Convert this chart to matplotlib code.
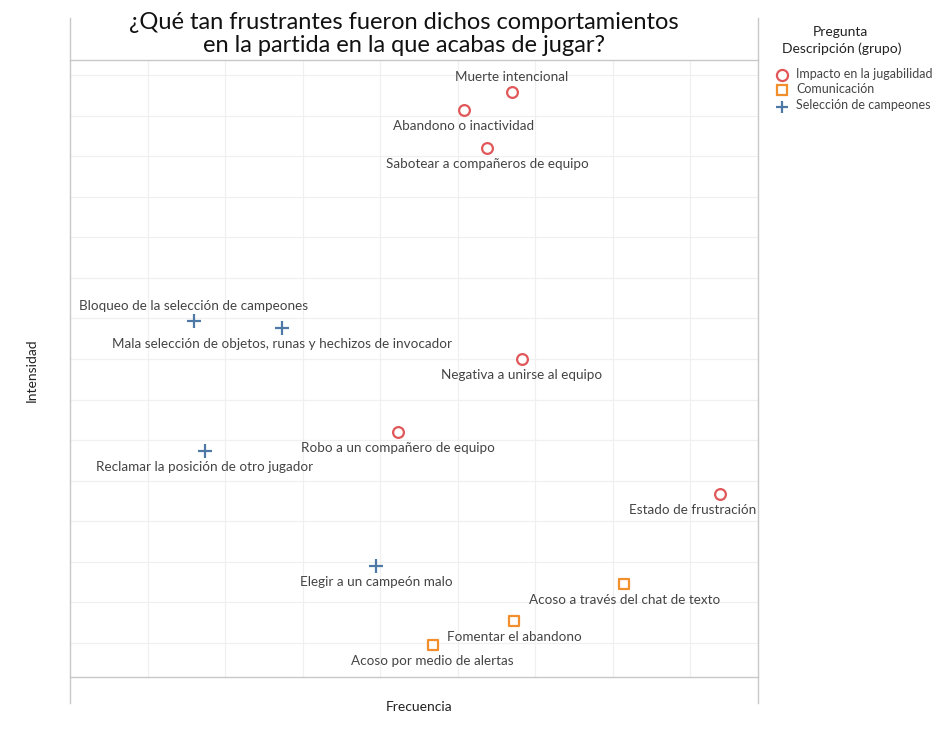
import matplotlib
matplotlib.use("Agg")
import matplotlib.pyplot as plt
from matplotlib.lines import Line2D

plt.rcParams['font.family'] = ['Lato', 'DejaVu Sans']

labels = [
    "Muerte intencional", "Abandono o inactividad", "Sabotear a compañeros de equipo",
    "Bloqueo de la selección de campeones", "Mala selección de objetos, runas y hechizos de invocador",
    "Negativa a unirse al equipo", "Robo a un compañero de equipo",
    "Reclamar la posición de otro jugador", "Estado de frustración",
    "Elegir a un campeón malo", "Acoso a través del chat de texto",
    "Fomentar el abandono", "Acoso por medio de alertas",
]
groups = [
    "Impacto en la jugabilidad", "Impacto en la jugabilidad", "Impacto en la jugabilidad",
    "Selección de campeones", "Selección de campeones",
    "Impacto en la jugabilidad", "Impacto en la jugabilidad",
    "Selección de campeones", "Impacto en la jugabilidad",
    "Selección de campeones", "Comunicación",
    "Comunicación", "Comunicación",
]
frecuencia = [5.70, 5.08, 5.38, 1.60, 2.74, 5.83, 4.23, 1.74, 8.39, 3.95, 7.15, 5.73, 4.68]
intensidad = [14.57, 14.13, 13.19, 8.93, 8.76, 8.00, 6.20, 5.73, 4.67, 2.90, 2.45, 1.54, 0.95]
label_above = [True, False, False, True, False, False, False, False, False, False, False, False, False]

group_order = ["Impacto en la jugabilidad", "Comunicación", "Selección de campeones"]
group_colors = {"Impacto en la jugabilidad": "#e15759",
                "Comunicación": "#f28e2b",
                "Selección de campeones": "#4e79a7"}
group_markers = {"Impacto en la jugabilidad": "o",
                 "Comunicación": "s",
                 "Selección de campeones": "+"}

W, H = 938, 741
fig = plt.figure(figsize=(W / 100, H / 100), dpi=100)
ax = fig.add_axes([70 / W, 1 - 677 / H, (758 - 70) / W, (677 - 60) / H])

ax.set_xlim(0, 8.877)
ax.set_ylim(0.163, 15.37)
ax.set_xticks(range(1, 9))
ax.set_yticks(range(1, 16))
ax.grid(True, color="#f0f0f0", linewidth=0.9)
ax.set_axisbelow(True)
ax.tick_params(length=0, labelbottom=False, labelleft=False)
for s in ["left", "right"]:
    ax.spines[s].set_visible(False)
for s in ["top", "bottom"]:
    ax.spines[s].set_color("#c8c8c8")
    ax.spines[s].set_linewidth(1.0)

# vertical frame lines extending beyond the axes
for xp in (70, 758):
    fig.add_artist(Line2D([xp / W, xp / W], [1 - 18 / H, 1 - 703 / H],
                          color="#c8c8c8", linewidth=1.0, transform=fig.transFigure))

for x, y, lab, g, above in zip(frecuencia, intensidad, labels, groups, label_above):
    c = group_colors[g]
    m = group_markers[g]
    if m == "+":
        ax.scatter([x], [y], marker="+", s=90, color=c, linewidths=1.6, zorder=3)
    else:
        ax.scatter([x], [y], marker=m, s=60 if m == "o" else 50, facecolors="white",
                   edgecolors=c, linewidths=1.6, zorder=3)
    dx = 0
    if lab == "Estado de frustración":
        dx = -28
    if above:
        ax.annotate(lab, (x, y), xytext=(dx, 9), textcoords="offset pixels",
                    ha="center", va="bottom", fontsize=9.7, color="#444444")
    else:
        ax.annotate(lab, (x, y), xytext=(dx, -10), textcoords="offset pixels",
                    ha="center", va="top", fontsize=9.7, color="#444444")

fig.text(404 / W, 1 - 34 / H, "¿Qué tan frustrantes fueron dichos comportamientos\nen la partida en la que acabas de jugar?",
         ha="center", va="center", fontsize=17, color="#111111", linespacing=1.12)

fig.text(419 / W, 1 - 707 / H, "Frecuencia", ha="center", va="center", fontsize=10, color="#222222")
fig.text(32 / W, 1 - 370 / H, "Intensidad", ha="center", va="center", rotation=90, fontsize=10, color="#222222")

# legend
fig.text(840 / W, 1 - 32 / H, "Pregunta", ha="center", va="center", fontsize=10, color="#222222")
fig.text(842 / W, 1 - 49 / H, "Descripción (grupo)", ha="center", va="center", fontsize=10, color="#222222")
leg_y = [74, 89, 105]
for g, yp in zip(group_order, leg_y):
    c = group_colors[g]
    m = group_markers[g]
    if m == "+":
        fig.add_artist(Line2D([782 / W], [1 - (yp + 2) / H], marker="+", markersize=9,
                              markeredgewidth=1.6, color=c, linestyle="none", transform=fig.transFigure))
    else:
        fig.add_artist(Line2D([782 / W], [1 - (yp + 1) / H], marker=m, markersize=8 if m == "o" else 7,
                              markerfacecolor="white", markeredgecolor=c, markeredgewidth=1.6,
                              linestyle="none", transform=fig.transFigure))
    fig.text(796 / W, 1 - yp / H, g, ha="left", va="center", fontsize=9, color="#444444")

fig.savefig("out.png", dpi=100)
